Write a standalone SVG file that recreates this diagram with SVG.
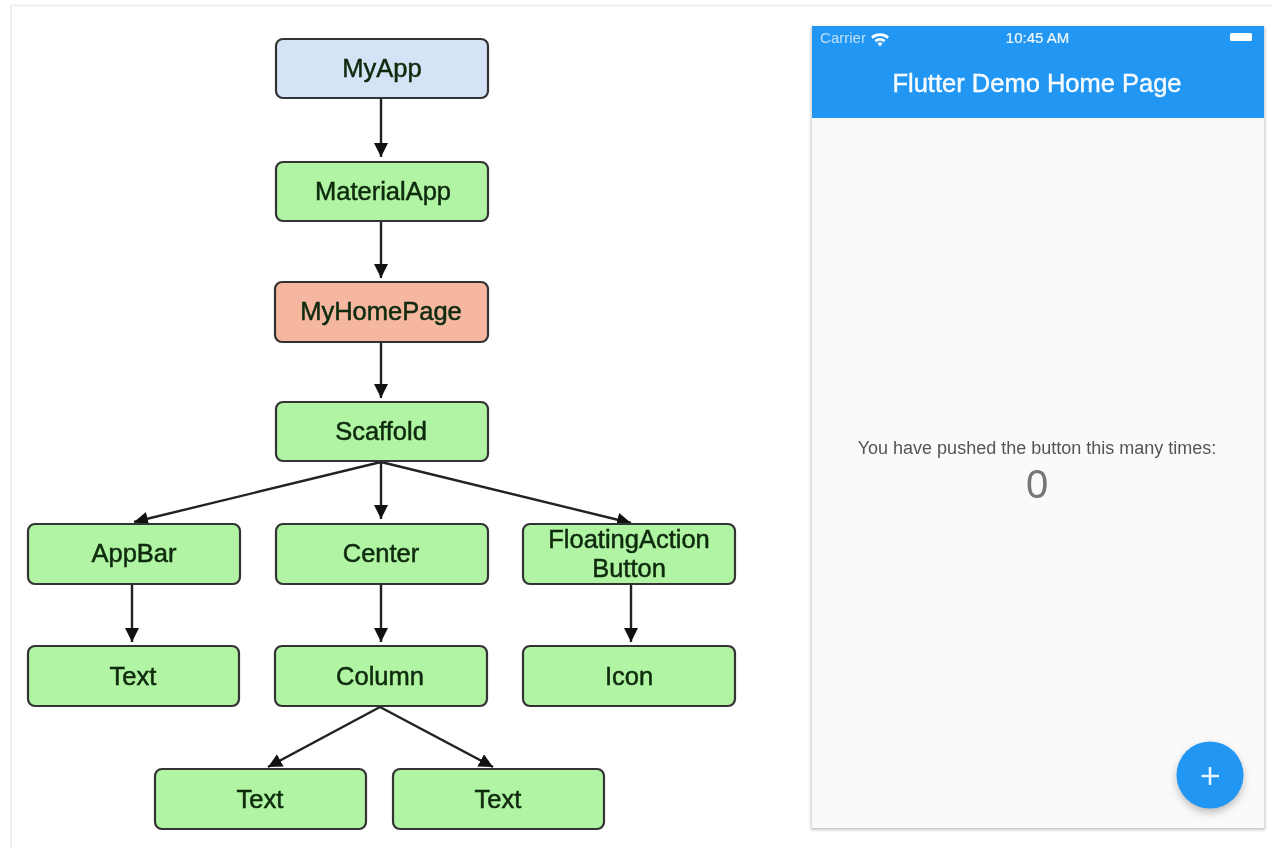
<svg xmlns="http://www.w3.org/2000/svg" width="1272" height="848" viewBox="0 0 1272 848">
<style>
text{font-family:"Liberation Sans",Arial,sans-serif;text-anchor:middle}
.n rect{stroke:#333;stroke-width:2.2}
.n text{font-size:25.500px;fill:#0c2a0c;stroke:#0c2a0c;stroke-width:.5px}
.g rect{fill:#b1f4a4}
.c line{stroke:#222;stroke-width:2.4;marker-end:url(#a)}
</style>
<defs>
<marker id="a" markerUnits="userSpaceOnUse" markerWidth="16" markerHeight="16" refX="14" refY="7" orient="auto"><path d="M0 0L14 7L0 14Z" fill="#111"/></marker>
<filter id="b" x="-10%" y="-10%" width="120%" height="120%"><feGaussianBlur stdDeviation="1.5"/></filter>
<filter id="t" x="-5%" y="-30%" width="110%" height="160%"><feGaussianBlur stdDeviation=".4"/></filter>
<filter id="s" x="-40%" y="-40%" width="180%" height="180%"><feGaussianBlur stdDeviation="4"/></filter>
</defs>
<rect width="1272" height="848" fill="#fff"/>
<path d="M11 848V5.500H1272" fill="none" stroke="#f0f0f0" stroke-width="2"/>
<g id="connectors" class="c">
<line x1="381" y1="98" x2="381" y2="157"/>
<line x1="381" y1="221" x2="381" y2="278"/>
<line x1="381" y1="342" x2="381" y2="398"/>
<line x1="381" y1="462" x2="134" y2="522"/>
<line x1="381" y1="462" x2="381" y2="519"/>
<line x1="381" y1="462" x2="631" y2="523"/>
<line x1="132" y1="584" x2="132" y2="642"/>
<line x1="381" y1="584" x2="381" y2="642"/>
<line x1="631" y1="584" x2="631" y2="642"/>
<line x1="380" y1="707" x2="268" y2="767"/>
<line x1="380" y1="707" x2="493" y2="767"/>
</g>
<g id="myapp" class="n"><rect x="276" y="39" width="212" height="59" rx="7" fill="#d4e4f6"/><text x="382" y="77" filter="url(#t)">MyApp</text></g>
<g id="materialapp" class="n g"><rect x="276" y="162" width="212" height="59" rx="7"/><text x="383" y="200" filter="url(#t)">MaterialApp</text></g>
<g id="myhomepage" class="n"><rect x="275" y="282" width="213" height="60" rx="7" fill="#f6b7a0"/><text x="381" y="320" filter="url(#t)">MyHomePage</text></g>
<g id="scaffold" class="n g"><rect x="276" y="402" width="212" height="59" rx="7"/><text x="381" y="440" filter="url(#t)">Scaffold</text></g>
<g id="appbar" class="n g"><rect x="28" y="524" width="212" height="60" rx="7"/><text x="134" y="562" filter="url(#t)">AppBar</text></g>
<g id="center" class="n g"><rect x="276" y="524" width="212" height="60" rx="7"/><text x="381" y="562" filter="url(#t)">Center</text></g>
<g id="fab" class="n g"><rect x="523" y="524" width="212" height="60" rx="7"/><text x="629" y="548" filter="url(#t)">FloatingAction</text><text x="629" y="577" filter="url(#t)">Button</text></g>
<g id="text1" class="n g"><rect x="28" y="646" width="211" height="60" rx="7"/><text x="133" y="685" filter="url(#t)">Text</text></g>
<g id="column" class="n g"><rect x="275" y="646" width="212" height="60" rx="7"/><text x="380" y="685" filter="url(#t)">Column</text></g>
<g id="icon" class="n g"><rect x="523" y="646" width="212" height="60" rx="7"/><text x="629" y="685" filter="url(#t)">Icon</text></g>
<g id="text2" class="n g"><rect x="155" y="769" width="211" height="60" rx="7"/><text x="260" y="808" filter="url(#t)">Text</text></g>
<g id="text3" class="n g"><rect x="393" y="769" width="211" height="60" rx="7"/><text x="498" y="808" filter="url(#t)">Text</text></g>
<g id="phone">
<rect x="811" y="27" width="454" height="803" fill="#c4c4c4" filter="url(#b)"/>
<rect x="812" y="26" width="452" height="802" fill="#fafafa"/>
<rect x="812" y="26" width="452" height="92" fill="#2196f3"/>
<g fill="#fff" filter="url(#t)">
<text x="843" y="43" font-size="15" fill-opacity=".7">Carrier</text>
<path d="M871 36.500a14 14 0 0 1 18 0l-1.800 2.200a11 11 0 0 0-14.400 0zM874.500 40a8.500 8.500 0 0 1 11 0l-1.800 2.200a5.500 5.500 0 0 0-7.400 0zM877.500 43.500a3.500 3.500 0 0 1 5 0l-2.500 3z"/>
<text x="1037.500" y="43" font-size="15" stroke="#fff" stroke-width=".2" fill-opacity=".9">10:45 AM</text>
<rect x="1230" y="33" width="22" height="8" rx="1.500"/>
<text x="1037" y="92" font-size="25.500" stroke="#fff" stroke-width=".4" fill-opacity=".95">Flutter Demo Home Page</text>
</g>
<g filter="url(#t)">
<text x="1037" y="454" font-size="18" fill="#555">You have pushed the button this many times:</text>
<text x="1037" y="498" font-size="40" fill="#777">0</text>
</g>
<circle cx="1210" cy="779" r="33" fill="#888" fill-opacity=".6" filter="url(#s)"/>
<circle cx="1210" cy="775" r="33.500" fill="#2196f3"/>
<path d="M1210 767V785M1201.500 776H1219" stroke="#e8f4ff" stroke-width="2.600" fill="none"/>
</g>
</svg>
